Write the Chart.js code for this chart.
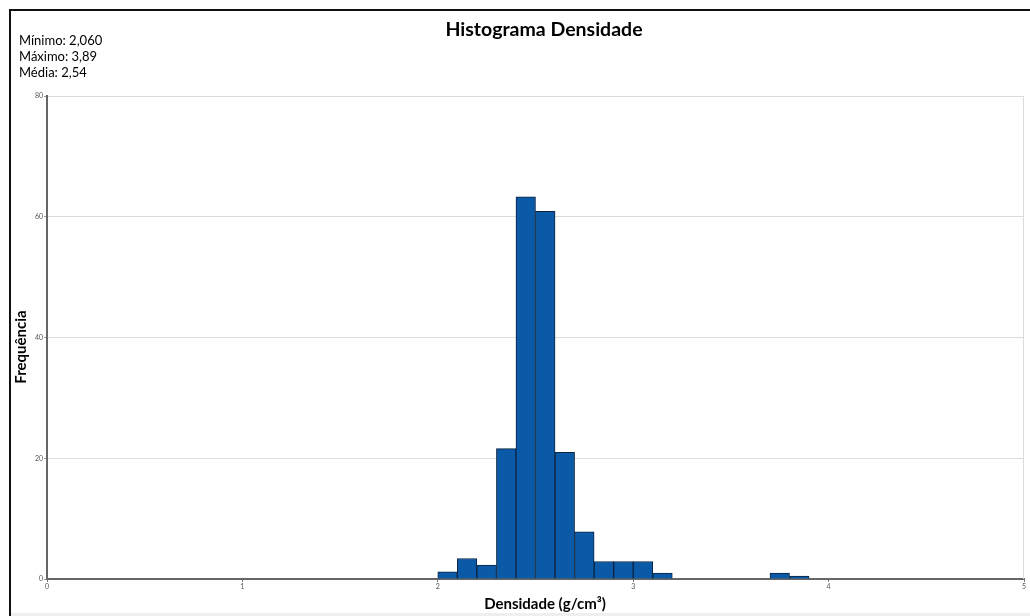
<!DOCTYPE html>
<html>
<head>
<meta charset="utf-8">
<script src="https://cdn.jsdelivr.net/npm/chart.js@4"></script>
<style>
  html, body { margin: 0; padding: 0; background: #fff; }
  #wrap { width: 1030px; height: 616px; position: relative; }
</style>
</head>
<body>
<div id="wrap"><canvas id="hist" width="1030" height="616"></canvas></div>
<script>
// bin start (g/cm3), bins are 0.1 wide
const binStarts = [2.0, 2.1, 2.2, 2.3, 2.4, 2.5, 2.6, 2.7, 2.8, 2.9, 3.0, 3.1, 3.7, 3.8];
const frequencies = [1.2, 3.4, 2.3, 21.6, 63.3, 60.9, 21.0, 7.8, 2.9, 2.9, 2.9, 1.0, 1.0, 0.5];
const binWidth = 0.1;
const statsLines = ["Mínimo: 2,060", "Máximo: 3,89", "Média: 2,54"];

const FONT = "Lato, 'Open Sans', sans-serif";

const decorations = {
  id: "decorations",
  beforeDraw(chart) {
    const ctx = chart.ctx;
    ctx.save();
    ctx.fillStyle = "#fff";
    ctx.fillRect(0, 0, chart.width, chart.height);
    ctx.restore();
  },
  afterDraw(chart) {
    const ctx = chart.ctx;
    const area = chart.chartArea;
    ctx.save();
    // outer frame
    ctx.fillStyle = "#111";
    ctx.fillRect(9, 9, chart.width - 9, 2);
    ctx.fillRect(9, 9, 2, chart.height - 9);
    ctx.fillStyle = "#efefef";
    ctx.fillRect(11, 613, chart.width - 11, 3);

    // right border of the plot
    ctx.strokeStyle = "#dcdcdc";
    ctx.lineWidth = 1;
    ctx.beginPath();
    ctx.moveTo(area.right - 0.5, area.top);
    ctx.lineTo(area.right - 0.5, area.bottom);
    ctx.stroke();

    ctx.fillStyle = "#000";
    ctx.textBaseline = "middle";
    ctx.textAlign = "center";
    ctx.font = "bold 19.5px " + FONT;
    ctx.fillText("Histograma Densidade", 544, 30);

    ctx.textAlign = "left";
    ctx.font = "13px " + FONT;
    statsLines.forEach((line, i) => ctx.fillText(line, 19, 41 + i * 16));

    ctx.textAlign = "center";
    ctx.font = "bold 15px " + FONT;
    ctx.fillText("Densidade (g/cm³)", 545, 604);

    ctx.translate(21, 347);
    ctx.rotate(-Math.PI / 2);
    ctx.fillText("Frequência", 0, 0);
    ctx.restore();
  },
};

new Chart(document.getElementById("hist"), {
  type: "bar",
  data: {
    datasets: [{
      data: binStarts.map((b, i) => ({ x: b + binWidth / 2, y: frequencies[i] })),
      backgroundColor: "#0b5aa7",
      borderColor: "#0d2440",
      borderWidth: 1,
      barPercentage: 1,
      categoryPercentage: 1,
    }],
  },
  options: {
    responsive: false,
    animation: false,
    layout: { padding: { top: 96, right: 6, left: 0, bottom: 0 } },
    plugins: { legend: { display: false }, tooltip: { enabled: false } },
    scales: {
      x: {
        type: "linear",
        min: 0,
        max: 5,
        offset: false,
        afterFit: (s) => { s.height = 37; },
        ticks: { stepSize: 1, font: { size: 7, family: FONT }, color: "#555", padding: 1, maxRotation: 0 },
        grid: { display: true, offset: false, drawOnChartArea: false, drawTicks: true, tickLength: 3, tickColor: "#777" },
        border: { color: "#666", width: 2 },
      },
      y: {
        min: 0,
        max: 80,
        afterFit: (s) => { s.width = 47; },
        ticks: { stepSize: 20, font: { size: 7, family: FONT }, color: "#555", padding: 1 },
        grid: { color: "#dcdcdc", lineWidth: 1, tickLength: 3, tickColor: "#999" },
        border: { color: "#666", width: 2 },
      },
    },
  },
  plugins: [decorations],
});
</script>
</body>
</html>
